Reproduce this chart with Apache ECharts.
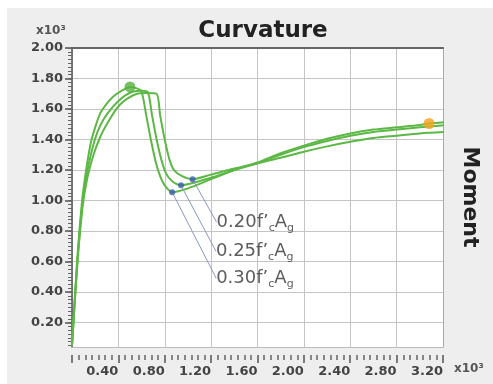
<!DOCTYPE html>
<html><head><meta charset="utf-8">
<script src="https://cdn.jsdelivr.net/npm/echarts@6/dist/echarts.min.js"></script>
<style>html,body{margin:0;padding:0;background:#fff}#c{width:493px;height:384px}</style>
</head><body><div id="c"></div>
<script>
// ---- data ----
const titleText = 'Curvature';
const yName = 'Moment';
const unitText = 'x10³';
const yTickValues = [0.2, 0.4, 0.6, 0.8, 1.0, 1.2, 1.4, 1.6, 1.8, 2.0];
const loadLabels = ['0.30', '0.25', '0.20'];

const curve030 = [[0,0.05],[0.043,0.59],[0.086,0.99],[0.12,1.19],[0.164,1.385],[0.20,1.48],[0.242,1.57],[0.30,1.635],[0.354,1.68],[0.43,1.72],[0.50,1.745],[0.56,1.735],[0.60,1.715],[0.64,1.56],[0.68,1.40],[0.72,1.26],[0.76,1.16],[0.80,1.10],[0.864,1.055],[1.00,1.08],[1.20,1.14],[1.40,1.20],[1.60,1.25],[1.80,1.31],[2.00,1.36],[2.20,1.405],[2.40,1.44],[2.60,1.465],[2.80,1.48],[3.00,1.495],[3.08,1.505],[3.24,1.515]];
const curve025 = [[0,0.05],[0.044,0.58],[0.088,0.97],[0.125,1.165],[0.175,1.34],[0.22,1.45],[0.27,1.53],[0.33,1.595],[0.39,1.645],[0.46,1.69],[0.53,1.715],[0.60,1.72],[0.655,1.71],[0.69,1.56],[0.73,1.40],[0.77,1.27],[0.81,1.18],[0.86,1.13],[0.94,1.10],[1.20,1.15],[1.40,1.20],[1.60,1.245],[1.80,1.30],[2.00,1.35],[2.20,1.39],[2.40,1.425],[2.60,1.45],[2.80,1.465],[3.00,1.48],[3.24,1.495]];
const curve020 = [[0,0.05],[0.045,0.57],[0.09,0.95],[0.13,1.14],[0.19,1.31],[0.245,1.42],[0.30,1.50],[0.36,1.575],[0.415,1.63],[0.48,1.67],[0.56,1.70],[0.64,1.705],[0.73,1.70],[0.76,1.56],[0.80,1.40],[0.84,1.27],[0.88,1.20],[0.95,1.16],[1.04,1.14],[1.20,1.17],[1.40,1.21],[1.60,1.245],[1.80,1.28],[2.00,1.32],[2.20,1.355],[2.40,1.385],[2.60,1.41],[2.80,1.425],[3.00,1.44],[3.24,1.45]];
const minimaPoints = [[0.864,1.055],[0.94,1.10],[1.04,1.14]];
const peakPoint = [[0.50,1.745]];
const endPoint = [[3.08,1.505]];

// ---- styles ----
const FONT = 'DejaVu Sans';
const GREEN = '#5cb845';
const labelOffsets = [[36,86],[27,66],[16,43]];
const yMinor = [];
for (let v = 0.05; v < 2.0001; v += 0.025) yMinor.push(+v.toFixed(3));

const chart = echarts.init(document.getElementById('c'), null, {renderer:'canvas'});
const lineSeries = (data) => ({
  type:'line', data, xAxisIndex:0, yAxisIndex:0, showSymbol:false, smooth:0.25,
  clip:false, lineStyle:{color:GREEN, width:2}, z:3, silent:true
});
chart.setOption({
  animation:false,
  backgroundColor:'#ffffff',
  graphic:[
    {type:'rect', left:7, top:8, shape:{width:486, height:376}, style:{fill:'#eeeeee'}, z:-10},
    {type:'rect', left:72, top:48, shape:{width:371, height:299}, style:{fill:'#ffffff'}, z:-9},
    {type:'text', left:36, top:25, style:{text:unitText, font:'bold 12px "DejaVu Sans"', fill:'#555'}},
    {type:'text', left:454, top:363, style:{text:unitText, font:'bold 12px "DejaVu Sans"', fill:'#555'}},
    {type:'text', x:470, y:197, rotation:-Math.PI/2, style:{text:yName, font:'bold 22px "DejaVu Sans"', fill:'#222', align:'center', verticalAlign:'middle'}}
  ],
  title:{text:titleText, left:258, top:15, textAlign:'center', textStyle:{fontFamily:FONT, fontWeight:'bold', fontSize:23, color:'#222'}},
  grid:{left:72, right:50, top:48, bottom:37, show:false},
  xAxis:[
    {type:'value', min:0, max:3.2, interval:0.4, position:'bottom',
      axisLine:{show:true, onZero:false, lineStyle:{color:'#bbbbbb', width:1}}, axisTick:{show:false}, axisLabel:{show:false},
      splitLine:{show:true, lineStyle:{color:'#c4c4c4', width:1}}},
    {type:'value', min:0, max:3.2, interval:0.4, position:'bottom', offset:8,
      axisLine:{show:false, onZero:false}, axisTick:{show:true, length:8, lineStyle:{color:'#555', width:1.5}},
      minorTick:{show:true, splitNumber:7, length:5, lineStyle:{color:'#666', width:1.5}},
      axisLabel:{showMinLabel:false, align:'right', margin:10, fontFamily:FONT, fontWeight:'bold', fontSize:13, color:'#444',
        formatter:v=>v.toFixed(2)},
      splitLine:{show:false}},
    {type:'value', min:0, max:3.2, position:'top',
      axisLine:{show:true, onZero:false, lineStyle:{color:'#666', width:2}}, axisTick:{show:false}, axisLabel:{show:false}, splitLine:{show:false}}
  ],
  yAxis:[
    {type:'value', min:0.04, max:2.0, position:'left',
      axisLine:{show:true, onZero:false, lineStyle:{color:'#555', width:1.5}},
      axisTick:{show:true, customValues:yTickValues, length:7, lineStyle:{color:'#555', width:1.5}},
      axisLabel:{customValues:yTickValues, margin:9, fontFamily:FONT, fontWeight:'bold', fontSize:13, color:'#444',
        padding:[8,0,0,0], formatter:v=>v.toFixed(2)},
      splitLine:{show:true, lineStyle:{color:'#c4c4c4', width:1}}},
    {type:'value', min:0.04, max:2.0, position:'left',
      axisLine:{show:false, onZero:false}, axisTick:{show:true, customValues:yMinor, length:4, lineStyle:{color:'#666', width:1}},
      axisLabel:{show:false}, splitLine:{show:false}},
    {type:'value', min:0.04, max:2.0, position:'right',
      axisLine:{show:true, onZero:false, lineStyle:{color:'#aaaaaa', width:1}}, axisTick:{show:false}, axisLabel:{show:false}, splitLine:{show:false}}
  ],
  series:[
    lineSeries(curve030),
    lineSeries(curve025),
    lineSeries(curve020),
    {type:'scatter', data:minimaPoints, symbolSize:6, itemStyle:{color:'#3b5ca8'}, z:5,
      label:{show:true, position:'right', distance:5,
        formatter:p=>'{a|'+loadLabels[p.dataIndex]+'f’}{s|c}{a|A}{s|g}',
        rich:{a:{fontFamily:FONT, fontSize:18, color:'#333', lineHeight:22},
              s:{fontFamily:FONT, fontSize:11, color:'#333', padding:[12,0,0,0], lineHeight:22}}},
      labelLine:{show:true, lineStyle:{color:'#8a97c0', width:1}},
      labelLayout:p=>({dx:labelOffsets[p.dataIndex][0], dy:labelOffsets[p.dataIndex][1]})},
    {type:'scatter', data:peakPoint, symbolSize:11, itemStyle:{color:'#55b040'}, z:6},
    {type:'scatter', data:endPoint, symbolSize:11, itemStyle:{color:'#f5a21c'}, z:6}
  ]
});
</script></body></html>
